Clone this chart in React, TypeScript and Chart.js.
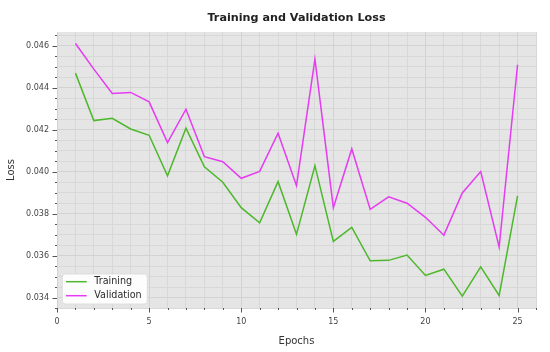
import React, { useEffect, useRef } from 'react';
import { Chart, registerables } from 'chart.js';

Chart.register(...registerables);

const chartTitle = 'Training and Validation Loss';
const xAxisTitle = 'Epochs';
const yAxisTitle = 'Loss';

const epochs = [1, 2, 3, 4, 5, 6, 7, 8, 9, 10, 11, 12, 13, 14, 15, 16, 17, 18, 19, 20, 21, 22, 23, 24, 25];

const trainingLoss = [
  0.04469, 0.04243, 0.04254, 0.04203, 0.04173, 0.0398, 0.04207, 0.04023, 0.03949, 0.03828,
  0.03756, 0.03952, 0.03701, 0.04028, 0.03667, 0.03734, 0.03575, 0.03577, 0.03602, 0.03505,
  0.03535, 0.03406, 0.03546, 0.0341, 0.03884,
];

const validationLoss = [
  0.0461, 0.04488, 0.04372, 0.04377, 0.04332, 0.04138, 0.04297, 0.04071, 0.04047, 0.03968,
  0.04001, 0.04183, 0.03933, 0.04536, 0.03828, 0.04108, 0.0382, 0.0388, 0.03849, 0.03782,
  0.03697, 0.03898, 0.04, 0.0364, 0.04509,
];

const xMin = 0;
const xMax = 26;
const xMajorStep = 5;
const xMinorStep = 1;
const yMin = 0.0335;
const yMax = 0.04665;
const yMajorStep = 0.002;
const yMinorStep = 0.0005;

const FONT = "'DejaVu Sans', 'Liberation Sans', sans-serif";

const isMajor = (v: number, step: number) => Math.abs(v / step - Math.round(v / step)) < 1e-6;

const decorPlugin = {
  id: 'decor',
  beforeDraw(chart: any) {
    const { ctx, chartArea: a } = chart;
    ctx.save();
    ctx.fillStyle = '#e5e5e5';
    ctx.fillRect(a.left, a.top, a.right - a.left, a.bottom - a.top);
    ctx.restore();
  },
  afterDraw(chart: any) {
    const { ctx, chartArea: a } = chart;
    ctx.save();
    // title
    ctx.fillStyle = '#222222';
    ctx.font = `bold 11.2px ${FONT}`;
    ctx.textAlign = 'center';
    ctx.textBaseline = 'alphabetic';
    ctx.fillText(chartTitle, (a.left + a.right) / 2, 20.7);

    // tick marks
    ctx.strokeStyle = '#555555';
    ctx.lineWidth = 1;
    const xs = chart.scales.x;
    xs.ticks.forEach((t: any) => {
      const px = Math.round(xs.getPixelForValue(t.value)) + 0.5;
      const len = isMajor(t.value, xMajorStep) ? 4.5 : 2;
      ctx.beginPath();
      ctx.moveTo(px, a.bottom);
      ctx.lineTo(px, a.bottom + len);
      ctx.stroke();
    });
    const ys = chart.scales.y;
    ys.ticks.forEach((t: any) => {
      const py = Math.round(ys.getPixelForValue(t.value)) + 0.5;
      const len = isMajor(t.value, yMajorStep) ? 4.5 : 2;
      ctx.beginPath();
      ctx.moveTo(a.left - len, py);
      ctx.lineTo(a.left, py);
      ctx.stroke();
    });

    // legend
    const bx = a.left + 5.3;
    const by = a.bottom - 34;
    const bw = 85;
    const bh = 30;
    ctx.fillStyle = 'rgba(255,255,255,0.92)';
    ctx.strokeStyle = 'rgba(220,220,220,0.9)';
    ctx.beginPath();
    ctx.roundRect(bx, by, bw, bh, 3);
    ctx.fill();
    ctx.stroke();
    ctx.font = `9.6px ${FONT}`;
    ctx.textAlign = 'left';
    ctx.textBaseline = 'middle';
    chart.data.datasets.forEach((ds: any, i: number) => {
      const ly = by + 7.7 + i * 14;
      ctx.strokeStyle = ds.borderColor;
      ctx.lineWidth = 1.5;
      ctx.beginPath();
      ctx.moveTo(bx + 3.7, ly);
      ctx.lineTo(bx + 24.4, ly);
      ctx.stroke();
      ctx.fillStyle = '#2a2a2a';
      ctx.fillText(ds.label, bx + 32, ly);
    });
    ctx.restore();
  },
};

export default function App() {
  const ref = useRef<HTMLCanvasElement | null>(null);

  useEffect(() => {
    if (!ref.current) return;
    const chart = new Chart(ref.current, {
      type: 'line',
      data: {
        datasets: [
          {
            label: 'Training',
            data: epochs.map((e, i) => ({ x: e, y: trainingLoss[i] })),
            borderColor: '#4db82b',
            backgroundColor: '#4db82b',
            borderWidth: 1.5,
            pointRadius: 0,
            tension: 0,
          },
          {
            label: 'Validation',
            data: epochs.map((e, i) => ({ x: e, y: validationLoss[i] })),
            borderColor: '#e53bf2',
            backgroundColor: '#e53bf2',
            borderWidth: 1.5,
            pointRadius: 0,
            tension: 0,
          },
        ],
      },
      options: {
        animation: false,
        responsive: false,
        maintainAspectRatio: false,
        layout: { padding: { top: 32, right: 14, left: 0, bottom: 0 } },
        plugins: {
          legend: { display: false },
          title: { display: false },
          tooltip: { enabled: false },
        },
        scales: {
          x: {
            type: 'linear',
            min: xMin,
            max: xMax,
            border: { display: false },
            grid: {
              drawTicks: false,
              color: (c: any) => (c.tick && isMajor(c.tick.value, xMajorStep) ? '#d2d2d2' : '#d8d8d8'),
              lineWidth: 1,
            },
            ticks: {
              stepSize: xMinorStep,
              autoSkip: false,
              includeBounds: false,
              maxRotation: 0,
              padding: 9,
              color: '#444444',
              font: { family: FONT, size: 8 },
              callback: (v: any) => (isMajor(Number(v), xMajorStep) ? String(Math.round(Number(v))) : ''),
            },
            title: {
              display: true,
              text: xAxisTitle,
              color: '#333333',
              font: { family: FONT, size: 10 },
              padding: { top: 0, bottom: 5 },
            },
            afterFit: (s: any) => {
              s.height = 44;
            },
          },
          y: {
            type: 'linear',
            min: yMin,
            max: yMax,
            border: { display: false },
            grid: {
              drawTicks: false,
              color: (c: any) => (c.tick && isMajor(c.tick.value, yMajorStep) ? '#d2d2d2' : '#d8d8d8'),
              lineWidth: 1,
            },
            ticks: {
              stepSize: yMinorStep,
              autoSkip: false,
              includeBounds: false,
              padding: 8,
              color: '#444444',
              font: { family: FONT, size: 8 },
              callback: (v: any) => (isMajor(Number(v), yMajorStep) ? Number(v).toFixed(3) : ''),
            },
            title: {
              display: true,
              text: yAxisTitle,
              color: '#333333',
              font: { family: FONT, size: 10 },
              padding: { top: 5, bottom: 0 },
            },
            afterFit: (s: any) => {
              s.width = 57;
            },
          },
        },
      },
      plugins: [decorPlugin],
    } as any);
    return () => chart.destroy();
  }, []);

  return (
    <div style={{ position: 'fixed', left: 0, top: 0, width: 550, height: 352 }}>
      <canvas ref={ref} width={550} height={352} style={{ width: 550, height: 352 }} />
    </div>
  );
}
